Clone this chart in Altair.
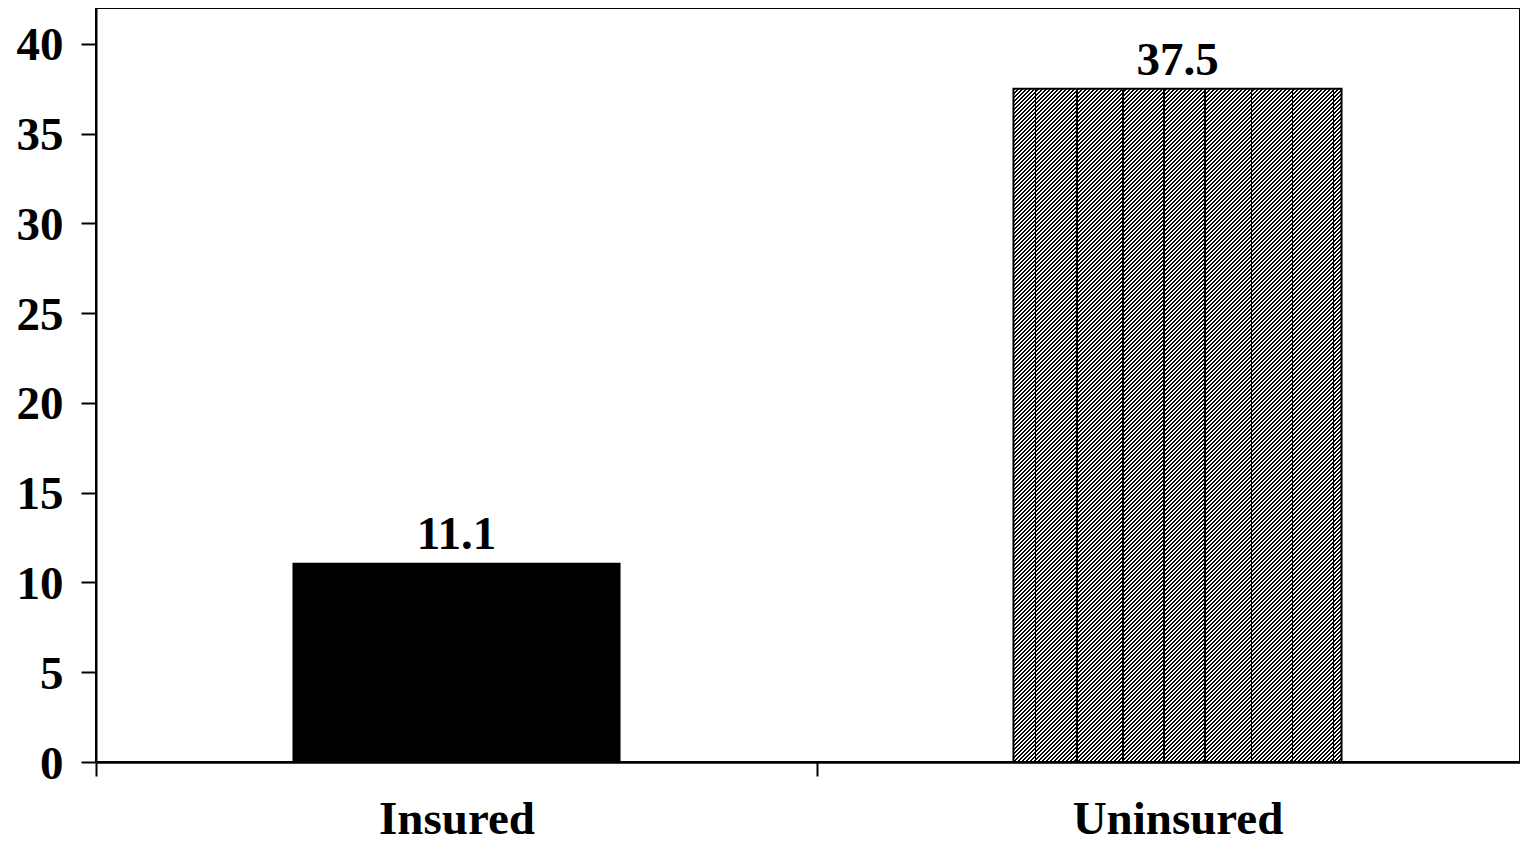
import altair as alt
import pandas as pd

categories = ["Insured", "Uninsured"]
values = [11.1, 37.5]
y_ticks = [0, 5, 10, 15, 20, 25, 30, 35, 40]

df = pd.DataFrame({"group": categories, "value": values})

FONT = "Liberation Serif"

VIEW_W = 1424          # visible plot width (svg clips the rest)
RANGE_W = 1442         # band range extends slightly past the right edge, as in the reference
VIEW_H = 754
Y_MAX = 42
BAND_FRAC = 0.455

# hatch gradient (diagonal "/" stripes) for the uninsured bar
W = RANGE_W / 2 * BAND_FRAC
H = VIEW_H / Y_MAX * values[1]
a = (W + H) / (W * W + H * H)
period = 4.0 / (W + H)
stops = []
t = 0.0
while t < 1.0:
    t1 = min(t + period / 2, 1.0)
    t2 = min(t + period, 1.0)
    stops += [
        alt.GradientStop(offset=t, color="#000000"),
        alt.GradientStop(offset=t1, color="#000000"),
        alt.GradientStop(offset=t1, color="#ffffff"),
        alt.GradientStop(offset=t2, color="#ffffff"),
    ]
    t = t2
hatch = alt.LinearGradient(gradient="linear", stops=stops, x1=0, y1=0, x2=a * W, y2=a * H)

# vertical thin lines inside the hatched bar
line_pos = [0.067, 0.193, 0.333, 0.459, 0.584, 0.725, 0.850, 0.976]
lw = 1.6 / W
clear = "rgba(0,0,0,0)"
vstops = [alt.GradientStop(offset=0, color=clear)]
for p in line_pos:
    vstops += [
        alt.GradientStop(offset=p - lw / 2, color=clear),
        alt.GradientStop(offset=p - lw / 2, color="#000000"),
        alt.GradientStop(offset=p + lw / 2, color="#000000"),
        alt.GradientStop(offset=p + lw / 2, color=clear),
    ]
vstops.append(alt.GradientStop(offset=1, color=clear))
vlines = alt.LinearGradient(gradient="linear", stops=vstops, x1=0, y1=0, x2=1, y2=0)

x_enc = alt.X(
    "group:N",
    sort=categories,
    scale=alt.Scale(paddingInner=0, paddingOuter=0, range=[0, RANGE_W]),
    axis=alt.Axis(
        title=None,
        labelAngle=0,
        labelFont=FONT,
        labelFontWeight="bold",
        labelFontSize=47,
        labelColor="black",
        labelPadding=20,
        labelLimit=0,
        tickSize=14,
        tickWidth=2,
        tickColor="black",
        tickBand="extent",
        domainColor="black",
        domainWidth=2.5,
        grid=False,
    ),
)
y_enc = alt.Y(
    "value:Q",
    scale=alt.Scale(domain=[0, Y_MAX], nice=False),
    axis=alt.Axis(
        title=None,
        values=y_ticks,
        labelFont=FONT,
        labelFontWeight="bold",
        labelFontSize=47,
        labelColor="black",
        labelPadding=18,
        labelOffset=2,
        tickSize=15,
        tickWidth=2,
        tickColor="black",
        domainColor="black",
        domainWidth=2,
        grid=False,
    ),
)

base = alt.Chart(df)
bw = alt.RelativeBandSize(BAND_FRAC)

insured = base.transform_filter(alt.datum.group == "Insured").mark_bar(
    color="black", width=bw
).encode(x=x_enc, y=y_enc)

uninsured = base.transform_filter(alt.datum.group == "Uninsured").mark_bar(
    color=hatch, stroke="black", strokeWidth=2, width=bw
).encode(x=x_enc, y=y_enc)

unins_lines = base.transform_filter(alt.datum.group == "Uninsured").mark_bar(
    color=vlines, width=bw
).encode(x=x_enc, y=y_enc)

labels = base.mark_text(
    font=FONT, fontWeight="bold", fontSize=47, color="black", dy=-14, baseline="alphabetic"
).encode(x=x_enc, y=y_enc, text=alt.Text("value:Q", format=".1f"))

chart = (
    alt.layer(insured, uninsured, unins_lines, labels)
    .properties(
        width=VIEW_W,
        height=VIEW_H,
        autosize=alt.AutoSizeParams(type="none"),
        padding={"left": 88, "top": 0, "right": 0, "bottom": 80},
        background="white",
    )
    .configure_view(stroke="black", strokeWidth=2)
)

chart.save("out.html", embed_options={"renderer": "svg", "actions": False})
